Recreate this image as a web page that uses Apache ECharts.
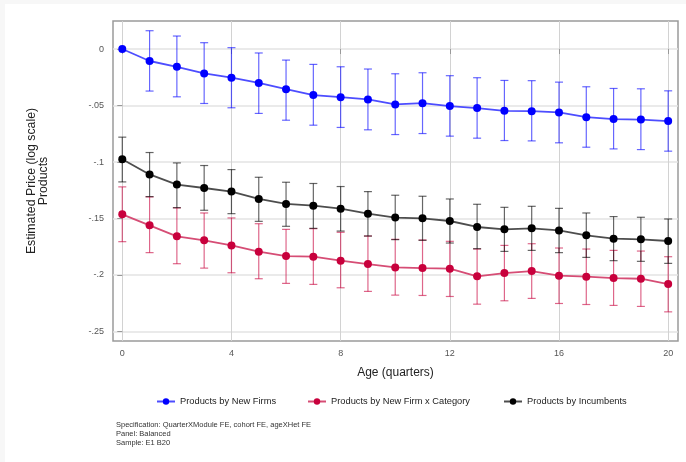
<!DOCTYPE html>
<html>
<head>
<meta charset="utf-8">
<script src="https://cdn.jsdelivr.net/npm/echarts@6/dist/echarts.min.js"></script>
<style>
  html, body { margin: 0; padding: 0; background: #f7f7f7; }
  #chart { position: absolute; left: 5px; top: 4px; width: 681px; height: 458px; background: #ffffff; }
</style>
</head>
<body>
<div id="chart"></div>
<script>
// age in quarters
const ages = [0, 1, 2, 3, 4, 5, 6, 7, 8, 9, 10, 11, 12, 13, 14, 15, 16, 17, 18, 19, 20]

// Products by New Firms
const newFirmEst = [0, -0.0106, -0.0157, -0.0216, -0.0254, -0.0300, -0.0355, -0.0408, -0.0426, -0.0446, -0.0490, -0.0479, -0.0505, -0.0523, -0.0547, -0.0550, -0.0561, -0.0603, -0.0620, -0.0624, -0.0638]
const newFirmLo = [0, -0.0372, -0.0423, -0.0482, -0.0520, -0.0570, -0.0630, -0.0674, -0.0694, -0.0715, -0.0757, -0.0748, -0.0771, -0.0789, -0.0810, -0.0813, -0.0830, -0.0869, -0.0884, -0.0890, -0.0904]
const newFirmHi = [0, 0.0162, 0.0115, 0.0056, 0.0012, -0.0035, -0.0098, -0.0136, -0.0157, -0.0177, -0.0219, -0.0210, -0.0236, -0.0254, -0.0278, -0.0280, -0.0293, -0.0334, -0.0349, -0.0352, -0.0370]

// Products by New Firm x Category
const categoryEst = [-0.1463, -0.1560, -0.1658, -0.1693, -0.1738, -0.1794, -0.1832, -0.1838, -0.1873, -0.1903, -0.1933, -0.1939, -0.1944, -0.2012, -0.1983, -0.1965, -0.2006, -0.2015, -0.2027, -0.2033, -0.2080]
const categoryLo = [-0.1705, -0.1802, -0.1900, -0.1939, -0.1980, -0.2033, -0.2074, -0.2083, -0.2113, -0.2145, -0.2178, -0.2181, -0.2190, -0.2258, -0.2228, -0.2207, -0.2252, -0.2261, -0.2269, -0.2278, -0.2326]
const categoryHi = [-0.1220, -0.1309, -0.1406, -0.1451, -0.1495, -0.1546, -0.1596, -0.1590, -0.1622, -0.1655, -0.1684, -0.1690, -0.1702, -0.1770, -0.1738, -0.1723, -0.1761, -0.1770, -0.1782, -0.1788, -0.1838]

// Products by Incumbents
const incumbentEst = [-0.0975, -0.1110, -0.1200, -0.1230, -0.1262, -0.1327, -0.1371, -0.1386, -0.1413, -0.1457, -0.1492, -0.1498, -0.1522, -0.1575, -0.1596, -0.1587, -0.1605, -0.1649, -0.1678, -0.1684, -0.1699]
const incumbentLo = [-0.1176, -0.1306, -0.1404, -0.1427, -0.1457, -0.1525, -0.1569, -0.1587, -0.1611, -0.1655, -0.1687, -0.1693, -0.1717, -0.1767, -0.1791, -0.1782, -0.1802, -0.1844, -0.1873, -0.1879, -0.1897]
const incumbentHi = [-0.0780, -0.0916, -0.1008, -0.1031, -0.1067, -0.1135, -0.1179, -0.1190, -0.1217, -0.1262, -0.1294, -0.1303, -0.1327, -0.1374, -0.1401, -0.1392, -0.1410, -0.1451, -0.1483, -0.1489, -0.1504]

const xTicks = [0, 4, 8, 12, 16, 20]
const yTicks = [0, -0.05, -0.1, -0.15, -0.2, -0.25]
const seriesNames = ['Products by New Firms', 'Products by New Firm x Category', 'Products by Incumbents']
const notes = ['Specification: QuarterXModule FE, cohort FE, ageXHet FE', 'Panel: Balanced', 'Sample: E1 B20']

const FONT = 'Liberation Sans, Arial, sans-serif'

// Stata style number: -.05 instead of -0.05
const stataFmt = v => {
  if (v === 0) return '0'
  let s = String(Math.round(v * 1000) / 1000)
  return s.replace('0.', '.')
}

const pairs = (xs, ys) => xs.map((x, i) => [x, ys[i]])
const ciData = (lo, hi) => ages.map((x, i) => [x, lo[i], hi[i]])

// draws the confidence interval bar with caps
const ciRender = color => (params, api) => {
  const lo = api.value(1)
  const hi = api.value(2)
  if (lo === hi) return null
  const top = api.coord([api.value(0), hi])
  const bot = api.coord([api.value(0), lo])
  const w = 4
  const style = { stroke: color, lineWidth: 1.2, opacity: 0.6 }
  return {
    type: 'group',
    children: [
      { type: 'line', shape: { x1: top[0], y1: top[1], x2: bot[0], y2: bot[1] }, style },
      { type: 'line', shape: { x1: top[0] - w, y1: top[1], x2: top[0] + w, y2: top[1] }, style },
      { type: 'line', shape: { x1: bot[0] - w, y1: bot[1], x2: bot[0] + w, y2: bot[1] }, style }
    ]
  }
}

const colors = ['#0000ff', '#c8003c', '#000000']
const lineColors = ['#4d4dff', '#d64d75', '#4d4d4d']
const ests = [newFirmEst, categoryEst, incumbentEst]
const los = [newFirmLo, categoryLo, incumbentLo]
const his = [newFirmHi, categoryHi, incumbentHi]

const series = []
seriesNames.forEach((name, k) => {
  series.push({
    name: name + ' CI',
    type: 'custom',
    renderItem: ciRender(colors[k]),
    encode: { x: 0, y: [1, 2] },
    data: ciData(los[k], his[k]),
    z: 2 + k * 3,
    silent: true
  })
  series.push({
    name: name,
    type: 'line',
    data: pairs(ages, ests[k]),
    symbol: 'circle',
    symbolSize: 8,
    z: 3 + k * 3,
    itemStyle: { color: colors[k] },
    lineStyle: { color: lineColors[k], width: 1.8 }
  })
})

const legendLefts = [146, 297, 493]
const legends = seriesNames.map((name, k) => ({
  data: [name],
  left: legendLefts[k],
  top: 388,
  itemWidth: 18,
  itemHeight: 8,
  textStyle: { fontFamily: FONT, fontSize: 9.3, color: '#222' },
  selectedMode: false
}))

const chart = echarts.init(document.getElementById('chart'))
chart.setOption({
  animation: false,
  textStyle: { fontFamily: FONT },
  grid: {
    left: 108, top: 17, right: 8, bottom: 121,
    show: true,
    borderColor: '#9a9a9a',
    borderWidth: 1.5
  },
  legend: legends,
  xAxis: {
    type: 'value',
    min: -0.34,
    max: 20.36,
    name: 'Age (quarters)',
    nameLocation: 'middle',
    nameGap: 26,
    nameTextStyle: { fontFamily: FONT, fontSize: 12, color: '#222' },
    axisLine: { show: false },
    axisTick: { show: true, length: 5, customValues: xTicks, lineStyle: { color: '#999' } },
    axisLabel: { customValues: xTicks, margin: 8, fontSize: 9, color: '#555', formatter: v => String(v) },
    splitLine: { show: true, lineStyle: { color: '#d2d2d2', width: 1 } }
  },
  yAxis: {
    type: 'value',
    min: -0.2584,
    max: 0.0248,
    axisLine: { show: false },
    axisTick: { show: true, length: 5, customValues: yTicks, lineStyle: { color: '#999' } },
    axisLabel: { customValues: yTicks, margin: 9, fontSize: 9, color: '#555', formatter: stataFmt },
    splitLine: { show: true, lineStyle: { color: '#e3e3e3', width: 1.5 } }
  },
  graphic: [
    {
      type: 'text', x: 27, y: 177, rotation: Math.PI / 2,
      style: { text: 'Estimated Price (log scale)', font: '12.3px ' + FONT, fill: '#222', align: 'center', verticalAlign: 'middle' }
    },
    {
      type: 'text', x: 39, y: 177, rotation: Math.PI / 2,
      style: { text: 'Products', font: '12.3px ' + FONT, fill: '#222', align: 'center', verticalAlign: 'middle' }
    },
    {
      type: 'text', left: 111, top: 416,
      style: { text: notes.join('\n'), font: '7.5px ' + FONT, fill: '#333', lineHeight: 9 }
    }
  ],
  series: series
})
</script>
</body>
</html>
